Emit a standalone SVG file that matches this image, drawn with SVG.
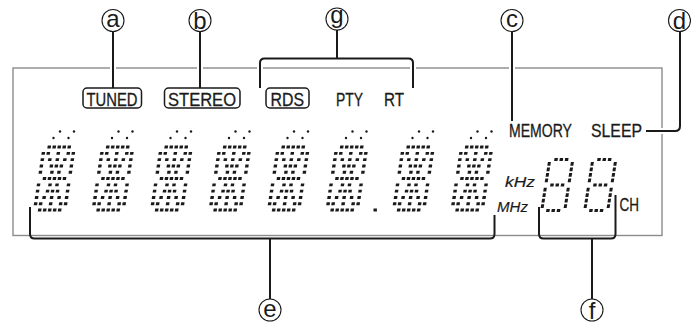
<svg xmlns="http://www.w3.org/2000/svg" xmlns:xlink="http://www.w3.org/1999/xlink" width="691" height="328" viewBox="0 0 691 328">
<style>
.frame{fill:none;stroke:#8c8c8c;stroke-width:1.4}
.halo{fill:none;stroke:#fff;stroke-width:6}
.lead{fill:none;stroke:#1a1a1a;stroke-width:2;stroke-linejoin:round}
.circ{fill:#fff;stroke:#1a1a1a;stroke-width:1.1}
.cl{font-family:"Liberation Sans",Arial,sans-serif;font-size:24px;fill:#1a1a1a;text-anchor:middle}
.lbl{font-family:"Liberation Sans",Arial,sans-serif;font-size:18.5px;fill:#1a1a1a;stroke:#1a1a1a;stroke-width:0.3}
.it{font-family:"Liberation Sans",Arial,sans-serif;font-size:15.5px;font-style:italic;fill:#1a1a1a;stroke:#1a1a1a;stroke-width:0.2}
.box{fill:none;stroke:#1a1a1a;stroke-width:1.5}
.dot{fill:#1a1a1a}
.ch rect{width:3.4px;height:2.9px}
</style>
<defs>
<g id="ch" class="dot" transform="skewX(-8.6)">
<rect x="5" y="-64.4" width="3.4" height="2.9"/><rect x="10" y="-64.4" width="3.4" height="2.9"/><rect x="15" y="-64.4" width="3.4" height="2.9"/><rect x="20" y="-64.4" width="3.4" height="2.9"/><rect x="25" y="-64.4" width="3.4" height="2.9"/>
<rect x="0" y="-58.1" width="3.4" height="2.9"/><rect x="5" y="-58.1" width="3.4" height="2.9"/><rect x="15" y="-58.1" width="3.4" height="2.9"/><rect x="25" y="-58.1" width="3.4" height="2.9"/><rect x="30" y="-58.1" width="3.4" height="2.9"/>
<rect x="0" y="-51.8" width="3.4" height="2.9"/><rect x="7.5" y="-51.8" width="3.4" height="2.9"/><rect x="15" y="-51.8" width="3.4" height="2.9"/><rect x="22.5" y="-51.8" width="3.4" height="2.9"/><rect x="30" y="-51.8" width="3.4" height="2.9"/>
<rect x="0" y="-45.5" width="3.4" height="2.9"/><rect x="10" y="-45.5" width="3.4" height="2.9"/><rect x="15" y="-45.5" width="3.4" height="2.9"/><rect x="20" y="-45.5" width="3.4" height="2.9"/><rect x="30" y="-45.5" width="3.4" height="2.9"/>
<rect x="0" y="-39.2" width="3.4" height="2.9"/><rect x="11.5" y="-39.2" width="3.4" height="2.9"/><rect x="18.5" y="-39.2" width="3.4" height="2.9"/><rect x="30" y="-39.2" width="3.4" height="2.9"/>
<rect x="5" y="-32.9" width="3.4" height="2.9"/><rect x="10" y="-32.9" width="3.4" height="2.9"/><rect x="15" y="-32.9" width="3.4" height="2.9"/><rect x="20" y="-32.9" width="3.4" height="2.9"/><rect x="25" y="-32.9" width="3.4" height="2.9"/>
<rect x="0" y="-26.6" width="3.4" height="2.9"/><rect x="11.5" y="-26.6" width="3.4" height="2.9"/><rect x="18.5" y="-26.6" width="3.4" height="2.9"/><rect x="30" y="-26.6" width="3.4" height="2.9"/>
<rect x="0" y="-20.3" width="3.4" height="2.9"/><rect x="10" y="-20.3" width="3.4" height="2.9"/><rect x="15" y="-20.3" width="3.4" height="2.9"/><rect x="20" y="-20.3" width="3.4" height="2.9"/><rect x="30" y="-20.3" width="3.4" height="2.9"/>
<rect x="0" y="-14" width="3.4" height="2.9"/><rect x="7.5" y="-14" width="3.4" height="2.9"/><rect x="15" y="-14" width="3.4" height="2.9"/><rect x="22.5" y="-14" width="3.4" height="2.9"/><rect x="30" y="-14" width="3.4" height="2.9"/>
<rect x="0" y="-7.7" width="3.4" height="2.9"/><rect x="5" y="-7.7" width="3.4" height="2.9"/><rect x="15" y="-7.7" width="3.4" height="2.9"/><rect x="25" y="-7.7" width="3.4" height="2.9"/><rect x="30" y="-7.7" width="3.4" height="2.9"/>
<rect x="5" y="-1.4" width="3.4" height="2.9"/><rect x="10" y="-1.4" width="3.4" height="2.9"/><rect x="15" y="-1.4" width="3.4" height="2.9"/><rect x="20" y="-1.4" width="3.4" height="2.9"/><rect x="25" y="-1.4" width="3.4" height="2.9"/>
</g>
<g id="ind" class="dot">
<circle cx="27" cy="-78.5" r="1.2"/><circle cx="41" cy="-78.5" r="1.2"/><circle cx="20.5" cy="-72" r="1.2"/><circle cx="35.5" cy="-72" r="1.2"/>
</g>
<g id="d7" class="dot" transform="skewX(-9)">
<rect x="6" y="-54" width="3.4" height="3"/><rect x="11.3" y="-54" width="3.4" height="3"/><rect x="16.6" y="-54" width="3.4" height="3"/>
<rect x="6" y="-28.5" width="3.4" height="3"/><rect x="11.3" y="-28.5" width="3.4" height="3"/><rect x="16.6" y="-28.5" width="3.4" height="3"/>
<rect x="6" y="-3" width="3.4" height="3"/><rect x="11.3" y="-3" width="3.4" height="3"/><rect x="16.6" y="-3" width="3.4" height="3"/>
<rect x="0" y="-50" width="3" height="3.8"/><rect x="0" y="-44.5" width="3" height="3.8"/><rect x="0" y="-39" width="3" height="3.8"/><rect x="0" y="-33.5" width="3" height="3.8"/>
<rect x="23" y="-50" width="3" height="3.8"/><rect x="23" y="-44.5" width="3" height="3.8"/><rect x="23" y="-39" width="3" height="3.8"/><rect x="23" y="-33.5" width="3" height="3.8"/>
<rect x="0" y="-24.2" width="3" height="3.8"/><rect x="0" y="-18.7" width="3" height="3.8"/><rect x="0" y="-13.2" width="3" height="3.8"/><rect x="0" y="-7.7" width="3" height="3.8"/>
<rect x="23" y="-24.2" width="3" height="3.8"/><rect x="23" y="-18.7" width="3" height="3.8"/><rect x="23" y="-13.2" width="3" height="3.8"/><rect x="23" y="-7.7" width="3" height="3.8"/>
</g>
</defs>

<rect id="display-frame" class="frame" x="13" y="68" width="649" height="167.5"/>

<g id="connectors">
<path class="halo" d="M113,31 V88 M200,31 V88 M260,88 V63 M413,88 V63 M512,31 V121 M646,131 H675"/>
<path class="lead" d="M113,31.5 V88"/>
<path class="lead" d="M200,31.5 V88"/>
<path class="lead" d="M337,30 V58.5 M260,88 V63 Q260,58.5 264.5,58.5 H408.5 Q413,58.5 413,63 V88"/>
<path class="lead" d="M512,31.5 V121"/>
<path class="lead" d="M680,31 V126 Q680,131 675,131 H646"/>
<path class="lead" d="M30,207 V234 Q30,238.5 34.5,238.5 H490 Q494.5,238.5 494.5,234 V215 M270,238.5 V299"/>
<path class="lead" d="M539,207 V234 Q539,238.5 543.5,238.5 H611 Q615.5,238.5 615.5,234 V195 M592,238.5 V299"/>
</g>

<g id="label-a"><circle class="circ" cx="113" cy="20.5" r="11"/><text class="cl" x="113" y="27">a</text></g>
<g id="label-b"><circle class="circ" cx="200" cy="20.5" r="11"/><text class="cl" x="200" y="29">b</text></g>
<g id="label-g"><circle class="circ" cx="337" cy="19" r="11"/><text class="cl" x="337" y="23">g</text></g>
<g id="label-c"><circle class="circ" cx="512" cy="20.5" r="11"/><text class="cl" x="512" y="27">c</text></g>
<g id="label-d"><circle class="circ" cx="679.5" cy="20.5" r="11"/><text class="cl" x="679.5" y="29">d</text></g>
<g id="label-e"><circle class="circ" cx="270" cy="310" r="11"/><text class="cl" x="270" y="316.5">e</text></g>
<g id="label-f"><circle class="circ" cx="592" cy="310" r="11"/><text class="cl" x="592" y="318.5">f</text></g>

<g id="ind-tuned"><rect class="box" x="83" y="88" width="58.5" height="20" rx="4"/><text class="lbl" x="86.5" y="106" textLength="51" lengthAdjust="spacingAndGlyphs">TUNED</text></g>
<g id="ind-stereo"><rect class="box" x="164.5" y="88" width="75.5" height="20" rx="4"/><text class="lbl" x="168" y="106" textLength="68" lengthAdjust="spacingAndGlyphs">STEREO</text></g>
<g id="ind-rds"><rect class="box" x="266" y="88" width="43" height="20" rx="4"/><text class="lbl" x="270.5" y="106" textLength="33.5" lengthAdjust="spacingAndGlyphs">RDS</text></g>
<g id="ind-pty"><text class="lbl" x="336" y="106" textLength="27" lengthAdjust="spacingAndGlyphs">PTY</text></g>
<g id="ind-rt"><text class="lbl" x="384" y="106" textLength="20" lengthAdjust="spacingAndGlyphs">RT</text></g>
<g id="ind-memory"><text class="lbl" x="509" y="137" textLength="63" lengthAdjust="spacingAndGlyphs">MEMORY</text></g>
<g id="ind-sleep"><text class="lbl" x="591" y="137" textLength="51" lengthAdjust="spacingAndGlyphs">SLEEP</text></g>
<g id="ind-khz"><text class="it" x="505" y="187" textLength="30" lengthAdjust="spacingAndGlyphs">kHz</text></g>
<g id="ind-mhz"><text class="it" x="497" y="212" textLength="31" lengthAdjust="spacingAndGlyphs">MHz</text></g>
<g id="ind-ch"><text class="lbl" x="619.5" y="211" textLength="19.5" lengthAdjust="spacingAndGlyphs">CH</text></g>

<g id="freq-display">
<use xlink:href="#ch" transform="translate(33,210)"/><use xlink:href="#ind" transform="translate(33,210)"/>
<use xlink:href="#ch" transform="translate(91.5,210)"/><use xlink:href="#ind" transform="translate(91.5,210)"/>
<use xlink:href="#ch" transform="translate(150,210)"/><use xlink:href="#ind" transform="translate(150,210)"/>
<use xlink:href="#ch" transform="translate(208.5,210)"/><use xlink:href="#ind" transform="translate(208.5,210)"/>
<use xlink:href="#ch" transform="translate(267,210)"/><use xlink:href="#ind" transform="translate(267,210)"/>
<use xlink:href="#ch" transform="translate(325.5,210)"/><use xlink:href="#ind" transform="translate(325.5,210)"/>
<rect class="dot" x="373.5" y="208.5" width="3.4" height="3"/>
<use xlink:href="#ch" transform="translate(392,210)"/><use xlink:href="#ind" transform="translate(392,210)"/>
<use xlink:href="#ch" transform="translate(450.5,210)"/><use xlink:href="#ind" transform="translate(450.5,210)"/>
</g>

<g id="channel-display">
<use xlink:href="#d7" transform="translate(540,212)"/>
<use xlink:href="#d7" transform="translate(583,212)"/>
</g>
</svg>
